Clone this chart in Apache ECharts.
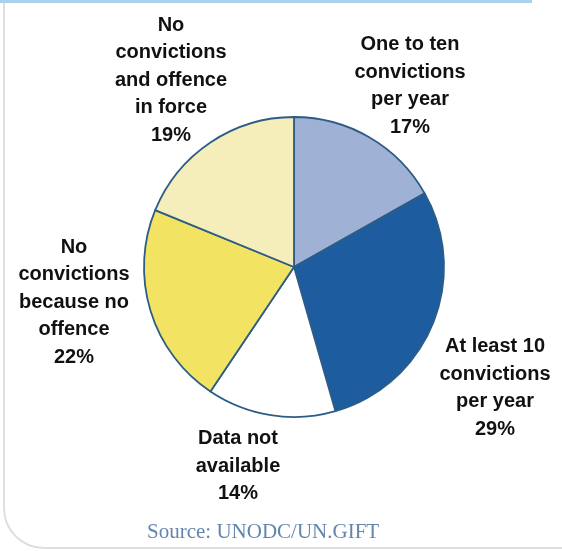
<!DOCTYPE html>
<html>
<head>
<meta charset="utf-8">
<script src="https://cdn.jsdelivr.net/npm/echarts@6/dist/echarts.min.js"></script>
<style>
html,body{margin:0;padding:0;background:#fff;}
#c{width:562px;height:551px;}
</style>
</head>
<body>
<div id="c"></div>
<script>
// Data
var categories = [
  'One to ten\nconvictions\nper year',
  'At least 10\nconvictions\nper year',
  'Data not\navailable',
  'No\nconvictions\nbecause no\noffence',
  'No\nconvictions\nand offence\nin force'
];
var shares = [17, 29, 14, 22, 19];
var sliceColors = ['#9fb2d5', '#1d5c9e', '#ffffff', '#f2e462', '#f5eebb'];
// label anchor positions (centre of each label block)
var labelPos = [[410, 86], [495, 388], [238, 466], [74, 302], [171, 80]];
var sourceText = 'Source: UNODC/UN.GIFT';

var chart = echarts.init(document.getElementById('c'));
var data = categories.map(function (n, i) {
  return { name: n, value: shares[i], itemStyle: { color: sliceColors[i] } };
});
chart.setOption({
  animation: false,
  backgroundColor: '#ffffff',
  graphic: [
    { type: 'rect', shape: { x: 4, y: -20, width: 620, height: 568, r: [0, 0, 0, 40] },
      style: { fill: null, stroke: '#dedede', lineWidth: 2 } },
    { type: 'rect', shape: { x: 0, y: 0, width: 532, height: 3 },
      style: { fill: '#a9d2ea' } },
    { type: 'text', left: 147, top: 522,
      style: { text: sourceText, fill: '#6485ad', font: '21px "Liberation Serif", serif' } }
  ],
  series: [{
    type: 'pie',
    center: [294, 267],
    radius: [0, 150],
    startAngle: 90,
    clockwise: true,
    data: data,
    itemStyle: { borderColor: '#2d5d86', borderWidth: 1.8 },
    emphasis: { disabled: true },
    labelLine: { show: false },
    label: {
      show: true,
      position: 'outside',
      formatter: function (p) { return p.name + '\n' + p.value + '%'; },
      color: '#111',
      fontFamily: 'Liberation Sans, Arial, sans-serif',
      fontWeight: 'bold',
      fontSize: 20,
      lineHeight: 27.5,
      align: 'center',
      verticalAlign: 'middle',
      overflow: 'none',
      width: 220
    },
    labelLayout: function (params) {
      var p = labelPos[params.dataIndex];
      return { x: p[0], y: p[1], align: 'center', verticalAlign: 'middle' };
    }
  }]
});
</script>
</body>
</html>
